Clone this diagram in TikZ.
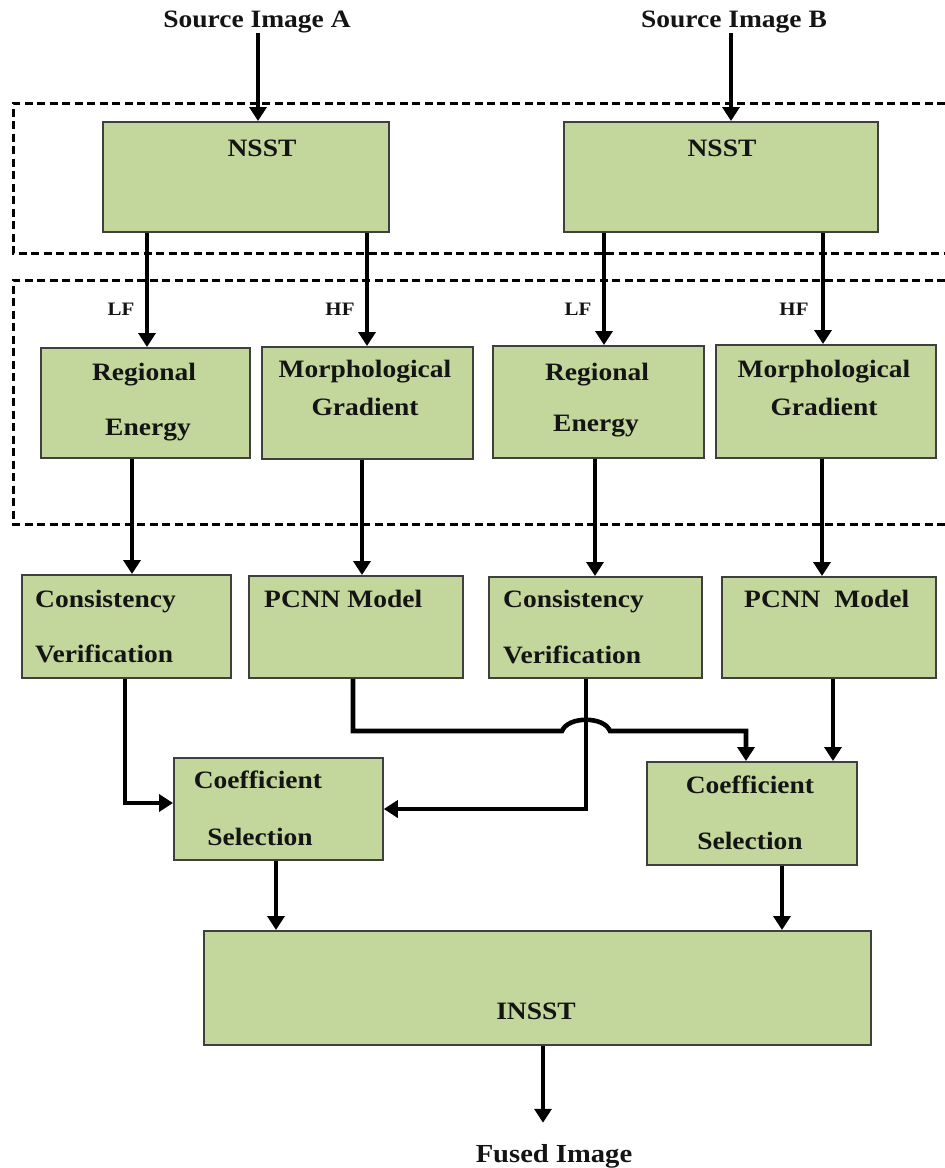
\documentclass[tikz,border=0pt]{standalone}
\usepackage{fontspec}
\setmainfont{Liberation Serif}[FakeStretch=1.1]
\usetikzlibrary{arrows.meta}
\definecolor{boxfill}{HTML}{C3D69B}
\definecolor{boxline}{HTML}{3F3F3F}
\definecolor{ink}{HTML}{141414}

\begin{document}
\begin{tikzpicture}[x=1pt,y=-1pt,
  box/.style={draw=boxline, line width=1.8pt, fill=boxfill, anchor=north west, inner sep=0pt},
  lbl/.style={inner sep=0pt, anchor=base, text=ink, font=\fontsize{25}{29}\selectfont\bfseries},
  lbll/.style={lbl, anchor=base west},
  tag/.style={inner sep=0pt, anchor=base, text=ink, font=\fontsize{19}{22}\selectfont\bfseries},
  lnk/.style={line width=4.6pt},
  arr/.style={lnk, -{Triangle[width=17pt,length=14pt]}},
  zone/.style={line width=3pt, dash pattern=on 8pt off 4.5pt},
]
\useasboundingbox (0,0) rectangle (945,1168);

% dashed stage frames, open on the right
\draw[zone] (945,103) -- (13,103) -- (13,253) -- (945,253);
\draw[zone] (945,280) -- (13,280) -- (13,524) -- (945,524);

% inputs
\node[lbl] (srcA) at (257,27) {Source Image A};
\node[lbl] (srcB) at (734,27) {Source Image B};

% decomposition
\node[box, minimum width=286pt, minimum height=110pt] (nsstA) at (102,121) {};
\node[box, minimum width=314pt, minimum height=110pt] (nsstB) at (563,121) {};
\node[lbl] (tNsstA) at (262,156) {NSST};
\node[lbl] (tNsstB) at (722,156) {NSST};

% feature extraction
\node[box, minimum width=209pt, minimum height=110pt] (reA) at (40,347) {};
\node[box, minimum width=211pt, minimum height=112pt] (mgA) at (261,346) {};
\node[box, minimum width=211pt, minimum height=112pt] (reB) at (492,345) {};
\node[box, minimum width=220pt, minimum height=113pt] (mgB) at (715,344) {};
\node[lbl] (tReA1) at (144,380) {Regional};
\node[lbl] (tReA2) at (148,435) {Energy};
\node[lbl] (tMgA1) at (365,377) {Morphological};
\node[lbl] (tMgA2) at (365,415) {Gradient};
\node[lbl] (tReB1) at (597,380) {Regional};
\node[lbl] (tReB2) at (596,431) {Energy};
\node[lbl] (tMgB1) at (824,377) {Morphological};
\node[lbl] (tMgB2) at (824,415) {Gradient};

% band labels
\node[tag] (lfA) at (121,315) {LF};
\node[tag] (hfA) at (340,315) {HF};
\node[tag] (lfB) at (578,315) {LF};
\node[tag] (hfB) at (794,315) {HF};

% processing
\node[box, minimum width=209pt, minimum height=103pt] (cvA) at (21,574) {};
\node[box, minimum width=214pt, minimum height=102pt] (pcA) at (248,575) {};
\node[box, minimum width=213pt, minimum height=101pt] (cvB) at (488,576) {};
\node[box, minimum width=214pt, minimum height=101pt] (pcB) at (721,576) {};
\node[lbll] (tCvA1) at (35,607) {Consistency};
\node[lbll] (tCvA2) at (35,662) {Verification};
\node[lbll] (tPcA) at (264,607) {PCNN Model};
\node[lbll] (tCvB1) at (503,607) {Consistency};
\node[lbll] (tCvB2) at (503,663) {Verification};
\node[lbll] (tPcB) at (744,607) {PCNN\ \ Model};

% selection
\node[box, minimum width=209pt, minimum height=102pt] (csA) at (173,757) {};
\node[box, minimum width=210pt, minimum height=103pt] (csB) at (646,761) {};
\node[lbl] (tCsA1) at (258,788) {Coefficient};
\node[lbl] (tCsA2) at (260,845) {Selection};
\node[lbl] (tCsB1) at (750,793) {Coefficient};
\node[lbl] (tCsB2) at (750,849) {Selection};

% reconstruction and output
\node[box, minimum width=667pt, minimum height=114pt] (insst) at (203,930) {};
\node[lbl] (tInsst) at (536,1019) {INSST};
\node[lbl, font=\fontsize{26}{30}\selectfont\bfseries] (fused) at (554,1162) {Fused Image};

% connector columns and rows
\coordinate (cSrcA) at (258,0);
\coordinate (cSrcB) at (731,0);
\coordinate (cLfA) at (147,0);
\coordinate (cHfA) at (367,0);
\coordinate (cLfB) at (604,0);
\coordinate (cHfB) at (823,0);
\coordinate (cReA) at (132,0);
\coordinate (cMgA) at (362,0);
\coordinate (cReB) at (595,0);
\coordinate (cMgB) at (822,0);
\coordinate (cCvA) at (125,0);
\coordinate (cCvB) at (586,0);
\coordinate (cPcA) at (353,0);
\coordinate (cPcB) at (833,0);
\coordinate (cCsBin) at (746,0);
\coordinate (cCsA) at (276,0);
\coordinate (cCsB) at (782,0);
\coordinate (cOut) at (543,0);
\coordinate (rA) at (0,803);
\coordinate (rB) at (0,809);
\coordinate (rC) at (0,731);
\coordinate (hopL) at (562,731);
\coordinate (hopR) at (610,731);

% connectors
\draw[arr] (srcA.south -| cSrcA) -- (nsstA.north -| cSrcA);
\draw[arr] (srcB.south -| cSrcB) -- (nsstB.north -| cSrcB);
\draw[arr] (nsstA.south -| cLfA) -- (reA.north -| cLfA);
\draw[arr] (nsstA.south -| cHfA) -- (mgA.north -| cHfA);
\draw[arr] (nsstB.south -| cLfB) -- (reB.north -| cLfB);
\draw[arr] (nsstB.south -| cHfB) -- (mgB.north -| cHfB);
\draw[arr] (reA.south -| cReA) -- (cvA.north -| cReA);
\draw[arr] (mgA.south -| cMgA) -- (pcA.north -| cMgA);
\draw[arr] (reB.south -| cReB) -- (cvB.north -| cReB);
\draw[arr] (mgB.south -| cMgB) -- (pcB.north -| cMgB);
\draw[arr] (cvA.south -| cCvA) |- (csA.west |- rA);
\draw[arr] (cvB.south -| cCvB) |- (csA.east |- rB);
\draw[arr] (pcA.south -| cPcA) |- (hopL)
  .. controls (568,716) and (604,716) .. (hopR)
  -| (csB.north -| cCsBin);
\draw[arr] (pcB.south -| cPcB) -- (csB.north -| cPcB);
\draw[arr] (csA.south -| cCsA) -- (insst.north -| cCsA);
\draw[arr] (csB.south -| cCsB) -- (insst.north -| cCsB);
\draw[arr, shorten >=21pt] (insst.south -| cOut) -- (fused.north -| cOut);
\end{tikzpicture}
\end{document}
